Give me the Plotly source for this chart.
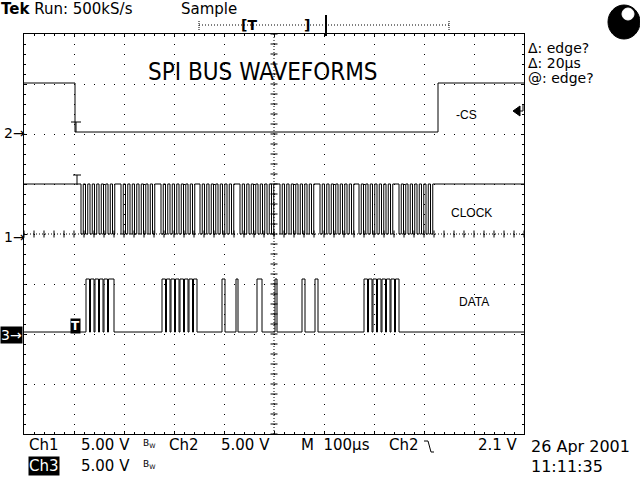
import plotly.graph_objects as go

# ---------------- data ----------------
# time axis in microseconds (100 us/div, 10 div), voltages in volts (5 V/div)
CS_TIMES_US = [0, 102, 828, 1000]
CS_VOLTS = [5.1, 0.2, 5.1, 5.1]

CLOCK_HIGH_V = 5.0
CLOCK_LOW_V = 0.0
CLOCK_BYTE_START_US = [114, 194, 274, 352, 432, 512, 592, 670, 750]
CLOCK_PULSE_OFFSET_US = [0, 9, 18, 27, 36, 45, 54, 63]
CLOCK_LOW_WIDTH_US = 4.5

DATA_HIGH_V = 5.5
DATA_LOW_V = 0.2
DATA_PULSES_US = [
    (124, 131), (133, 140), (142, 149), (151, 158), (160, 167), (169, 180),
    (276, 283), (285, 292), (294, 301), (303, 310), (312, 319), (321, 328), (330, 337), (339, 346),
    (396, 402), (424, 428), (466, 476), (502, 506), (556, 562), (582, 588),
    (680, 687), (689, 696), (698, 705), (707, 714), (716, 723), (725, 732), (734, 741), (743, 750),
]

CH2_GROUND_DIV = 6
CH1_GROUND_DIV = 4
CH3_GROUND_DIV = 2
VOLTS_PER_DIV = 5.0

# ---------------- helpers ----------------
W, H = 640, 480
L, T, R, B = 24, 34, 524, 434
FONT = "DejaVu Sans, Liberation Sans, sans-serif"
ARIAL = "Liberation Sans, Arial, sans-serif"
NARROW = "Liberation Sans Narrow, DejaVu Sans Condensed, Liberation Sans, sans-serif"


def px(x, y):
    return (x - L) / (R - L), (B - y) / (B - T)


def to_div(volts, ground):
    return [ground + v / VOLTS_PER_DIV for v in volts]


def pulse_train(pulses, base, level):
    t, v = [0], [base]
    for s, e in pulses:
        t += [s, e]
        v += [level, base]
    t.append(1000)
    v.append(base)
    return t, v


clock_pulses = []
for bs in CLOCK_BYTE_START_US:
    for off in CLOCK_PULSE_OFFSET_US:
        clock_pulses.append((bs + off, bs + off + CLOCK_LOW_WIDTH_US))
clk_t, clk_v = pulse_train(clock_pulses, CLOCK_HIGH_V, CLOCK_LOW_V)
dat_t, dat_v = pulse_train(DATA_PULSES_US, DATA_LOW_V, DATA_HIGH_V)

fig = go.Figure()

line_style = dict(color="black", width=1, shape="hv")
fig.add_trace(go.Scatter(x=CS_TIMES_US, y=to_div(CS_VOLTS, CH2_GROUND_DIV), mode="lines",
                         line=line_style, name="-CS", hoverinfo="skip"))
fig.add_trace(go.Scatter(x=clk_t, y=to_div(clk_v, CH1_GROUND_DIV), mode="lines",
                         line=line_style, name="CLOCK", hoverinfo="skip"))
fig.add_trace(go.Scatter(x=dat_t, y=to_div(dat_v, CH3_GROUND_DIV), mode="lines",
                         line=line_style, name="DATA", hoverinfo="skip"))

# centre graticule cross ticks
fig.add_trace(go.Scatter(x=[500] * 41, y=[k * 0.2 for k in range(41)], mode="markers",
                         marker=dict(symbol="line-ew", size=5, line=dict(color="black", width=1)),
                         hoverinfo="skip", showlegend=False))
fig.add_trace(go.Scatter(x=[k * 20 for k in range(51)], y=[4] * 51, mode="markers",
                         marker=dict(symbol="line-ns", size=5, line=dict(color="black", width=1)),
                         hoverinfo="skip", showlegend=False))

axis_common = dict(showticklabels=False, showline=True, linecolor="black", linewidth=1,
                   mirror="allticks", ticks="inside", ticklen=3, tickcolor="black",
                   showgrid=True, gridcolor="black", gridwidth=1, griddash="1px,9px",
                   zeroline=False, fixedrange=True)
fig.update_xaxes(range=[0, 1000], dtick=100, tick0=0,
                 minor=dict(dtick=20, ticks="inside", ticklen=2, tickcolor="black", showgrid=False),
                 **axis_common)
fig.update_yaxes(range=[0, 8], dtick=1, tick0=0,
                 minor=dict(dtick=0.2, ticks="inside", ticklen=2, tickcolor="black", showgrid=False),
                 **axis_common)

shapes = []
# centre lines (denser dots)
shapes.append(dict(type="line", xref="x", yref="y", x0=500, x1=500, y0=0, y1=8,
                   line=dict(color="black", width=1, dash="1px,2px")))
shapes.append(dict(type="line", xref="x", yref="y", x0=0, x1=1000, y0=4, y1=4,
                   line=dict(color="black", width=1, dash="1px,2px")))


def seg(x0, y0, x1, y1, w=1, dash=None):
    a, b = px(x0, y0)
    c, d = px(x1, y1)
    ln = dict(color="black", width=w)
    if dash:
        ln["dash"] = dash
    shapes.append(dict(type="line", xref="paper", yref="paper", x0=a, y0=b, x1=c, y1=d, line=ln))


# trigger / record bar at top
seg(199, 25, 449, 25, dash="1px,2px")
seg(199, 21, 199, 30, dash="1px,1px")
seg(449, 21, 449, 30, dash="1px,1px")
seg(326, 15, 326, 36, w=2)

# T markers on ch2 and ch1
seg(71, 122, 81, 122)
seg(76, 122, 76, 132)
seg(73, 175, 81, 175)
seg(77, 175, 77, 185)

# trigger level arrow on right
a0, b0 = px(513, 111)
a1, b1 = px(520, 106)
a2, b2 = px(520, 116)
shapes.append(dict(type="path", xref="paper", yref="paper",
                   path=f"M{a0},{b0} L{a1},{b1} L{a2},{b2} Z", fillcolor="black",
                   line=dict(color="black", width=1)))
seg(520, 111, 523, 111)
seg(523, 104, 523, 111)

# falling edge symbol after Ch2 at bottom
seg(424, 441, 428, 441)
seg(428, 441, 431, 452)
seg(431, 452, 434, 452)

# logo circle
c0x, c0y = px(608, 5)
c1x, c1y = px(640, 39)
shapes.append(dict(type="circle", xref="paper", yref="paper", x0=c0x, y0=c1y, x1=c1x, y1=c0y,
                   fillcolor="black", line=dict(color="black", width=1)))
h0x, h0y = px(622, 8)
h1x, h1y = px(634, 20)
shapes.append(dict(type="circle", xref="paper", yref="paper", x0=h0x, y0=h1y, x1=h1x, y1=h0y,
                   fillcolor="white", line=dict(color="white", width=1)))

fig.update_layout(shapes=shapes)


def txt(x, y, s, size=15, family=FONT, color="black", bg=None, anchor="left"):
    a, b = px(x, y)
    kw = dict(xref="paper", yref="paper", x=a, y=b, text=s, showarrow=False,
              xanchor=anchor, yanchor="middle", font=dict(size=size, family=family, color=color),
              borderpad=0)
    if bg:
        kw["bgcolor"] = bg
    fig.add_annotation(**kw)


# header
txt(0, 9, "<b>Tek</b> Run: 500kS/s", 15)
txt(180, 9, "Sample", 15)
txt(240, 25, "<b>[T</b>", 14)
txt(303, 25, "<b>]</b>", 14)

# title and channel labels
txt(263, 72, "SPI BUS WAVEFORMS", 24, NARROW, anchor="center")
txt(455, 115, "-CS", 12, ARIAL)
txt(450, 213, "CLOCK", 12, ARIAL)
txt(458, 302, "DATA", 12, ARIAL)

# right readouts
txt(527, 48, "Δ: edge?", 14)
txt(527, 63, "Δ: 20µs", 14)
txt(527, 78, "@: edge?", 14)

# ground markers
txt(3, 133, "2→", 14)
txt(3, 237, "1→", 14)
txt(0, 335, "3→", 14, color="white", bg="black")
txt(70, 326, "<b>T</b>", 12, color="white", bg="black")

# bottom readouts
txt(28, 445, "Ch1", 15)
txt(80, 445, "5.00 V", 15)
txt(142, 444, "B<sub>W</sub>", 9)
txt(168, 445, "Ch2", 15)
txt(220, 445, "5.00 V", 15)
txt(300, 445, "M  100µs", 15)
txt(388, 445, "Ch2", 15)
txt(477, 445, "2.1 V", 15)
txt(530, 446, "26 Apr 2001", 16)
txt(28, 466, "Ch3", 15, color="white", bg="black")
txt(80, 466, "5.00 V", 15)
txt(142, 465, "B<sub>W</sub>", 9)
txt(530, 466, "11:11:35", 16)

fig.update_layout(width=W, height=H, autosize=False,
                  margin=dict(l=L, r=W - R, t=T, b=H - B, pad=0),
                  paper_bgcolor="white", plot_bgcolor="white", showlegend=False)

fig.write_html("out.html", config={"displayModeBar": False},
               post_script="document.body.style.margin='0';")
